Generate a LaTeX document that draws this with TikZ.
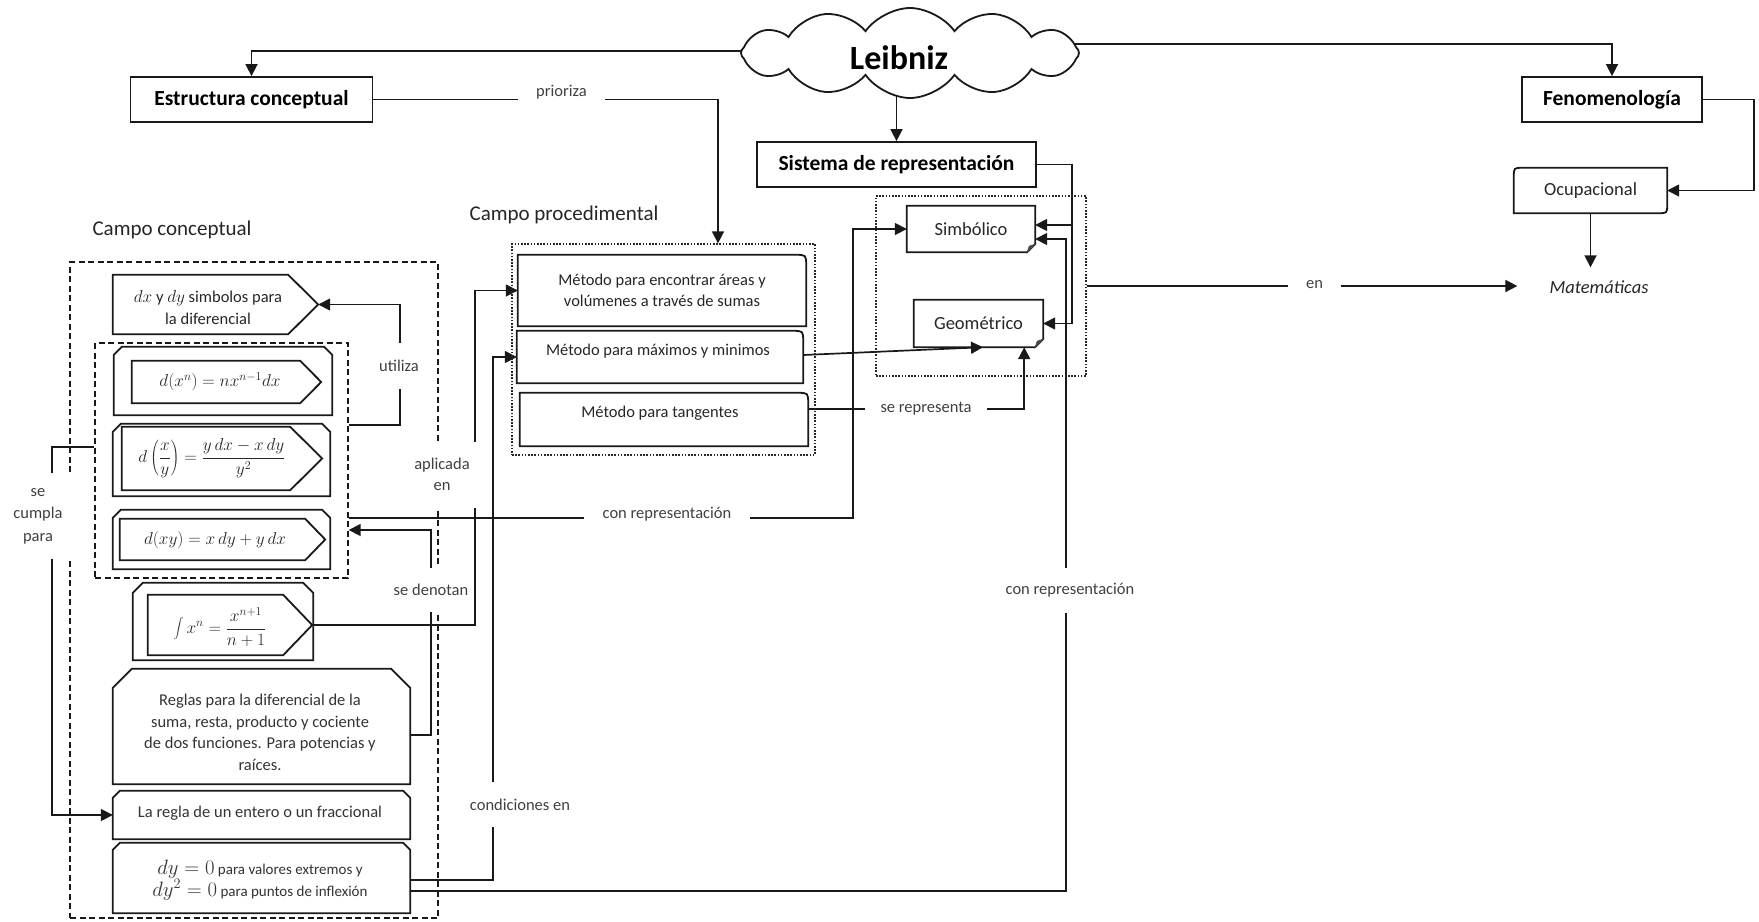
\documentclass[tikz,border=0pt]{standalone}
\usepackage{fontspec}
\setmainfont{Carlito}
\usetikzlibrary{arrows.meta,calc,shapes.symbols,backgrounds}

% font sizes (1pt = 1 output pixel)
\newcommand\fsBold{\fontsize{21.5}{26}\selectfont\bfseries}
\newcommand\fsTitle{\fontsize{21}{25}\selectfont}
\newcommand\fsBody{\fontsize{16.5}{21.5}\selectfont}
\newcommand\fsMid{\fontsize{18.5}{22}\selectfont}
\newcommand\fsLbl{\fontsize{16.5}{21.5}\selectfont}
\newcommand\fsLeib{\fontsize{34}{40}\selectfont\bfseries}
\newcommand\fsMath{\fontsize{18}{21}\selectfont}
\newcommand\fsMathL{\fontsize{19.5}{22}\selectfont}
\newcommand\fsDy{\fontsize{15}{22}\selectfont}

% outlines drawn around invisible nodes
% top corners cut off
\newcommand\snipdraw[2]{\draw[boxline] ([yshift=-#2]#1.north west) -- ([xshift=#2]#1.north west) -- ([xshift=-#2]#1.north east) -- ([yshift=-#2]#1.north east) -- (#1.south east) -- (#1.south west) -- cycle;}
% pentagon pointing right
\newcommand\pentadraw[2]{\draw[boxline] (#1.north west) -- ([xshift=-#2]#1.north east) -- (#1.east) -- ([xshift=-#2]#1.south east) -- (#1.south west) -- cycle;}
% one rounded corner (top right)
\newcommand\rtrdraw[2]{\draw[boxline] (#1.south west) -- (#1.north west) -- ([xshift=-#2]#1.north east) .. controls (#1.north east) .. ([yshift=-#2]#1.north east) -- (#1.south east) -- cycle;}
% rounded top-left and bottom-right corners
\newcommand\rdiagdraw[2]{\draw[boxline] ([yshift=-#2]#1.north west) .. controls (#1.north west) .. ([xshift=#2]#1.north west) -- (#1.north east) -- ([yshift=#2]#1.south east) .. controls (#1.south east) .. ([xshift=-#2]#1.south east) -- (#1.south west) -- cycle;}
% folded bottom-right corner
\newcommand\folddraw[2]{\draw[boxline] (#1.north west) -- (#1.north east) -- ([yshift=#2]#1.south east) -- ([xshift=-#2]#1.south east) -- (#1.south west) -- cycle;
  \filldraw[black!70, line width=0.8pt] ([yshift=#2]#1.south east) -- ([xshift=-#2]#1.south east) -- ([xshift=-0.75*#2,yshift=0.75*#2]#1.south east) -- cycle;}

\tikzset{
  boxline/.style={draw=black!90, line width=1.8pt},
  plainbox/.style={boxline, fill=white, inner sep=0pt, text=black},
  shapeonly/.style={inner sep=0pt},
  conn/.style={draw=black!90, line width=1.7pt},
  arr/.style={-{Triangle[length=12pt,width=12pt]}},
  lbl/.style={fill=white, inner sep=1pt, font=\fsLbl, text=black!75, align=center},
  dashbox/.style={draw=black!90, line width=1.4pt, dash pattern=on 6pt off 3.5pt, inner sep=0pt},
  dotbox/.style={draw=black!85, line width=1.3pt, dash pattern=on 1.6pt off 1.6pt, inner sep=0pt},
  txt/.style={text=black!85, inner sep=0pt, align=center},
}

\begin{document}
\begin{tikzpicture}[x=1pt,y=-1pt]
\useasboundingbox (0,0) rectangle (1759,921);

% ---------- top row ----------
\node[cloud, cloud puffs=12, cloud puff arc=110, aspect=3.8, boxline, fill=white,
      minimum width=338pt, minimum height=90pt, inner sep=0pt] (leib) at (910,53) {};
\node[txt, text=black] (leibt) at (899,58) {\fsLeib Leibniz};

\node[plainbox, minimum width=242pt, minimum height=45pt] (estr) at (251.5,99.5) {\fsBold Estructura conceptual};
\node[plainbox, minimum width=279pt, minimum height=45pt] (sist) at (896.5,164.5) {\fsBold Sistema de representación};
\node[plainbox, minimum width=180pt, minimum height=45pt] (fen) at (1612,99.5) {\fsBold Fenomenología};

\node[shapeonly, minimum width=153pt, minimum height=45pt, font=\fsMid, text=black!85] (ocup) at (1590.5,190.5) {Ocupacional};
\rdiagdraw{ocup}{9pt}
\node[txt, font=\fsMid\itshape, inner xsep=32pt, inner ysep=13pt] (mat) at (1599,287) {Matemáticas};

% ---------- representation systems ----------
\node[dotbox, minimum width=210pt, minimum height=180pt] (repbox) at (981,286) {};
\node[shapeonly, minimum width=128pt, minimum height=46pt, font=\fsMid, text=black!85] (sim) at (971,229) {Simbólico};
\folddraw{sim}{8pt}
\node[shapeonly, minimum width=129pt, minimum height=47pt, font=\fsMid, text=black!85] (geo) at (978.5,323.5) {Geométrico};
\folddraw{geo}{8pt}

% ---------- procedural field ----------
\node[txt, font=\fsTitle] (cp) at (564,215) {Campo procedimental};
\node[dotbox, minimum width=303pt, minimum height=211pt] (procbox) at (663.5,349.5) {};
\node[shapeonly, minimum width=288pt, minimum height=71pt, font=\fsBody, text=black!85, align=center] (metA) at (662,290.5)
  {Método para encontrar áreas y\\volúmenes a través de sumas};
\rtrdraw{metA}{11pt}
\node[shapeonly, minimum width=286pt, minimum height=52pt] (metB) at (660,357) {};
\rtrdraw{metB}{11pt}
\node[txt, font=\fsBody] (metBt) at (658,351) {Método para máximos y minimos};
\node[shapeonly, minimum width=288pt, minimum height=53pt] (metC) at (664,419.5) {};
\rtrdraw{metC}{11pt}
\node[txt, font=\fsBody] (metCt) at (660,413) {Método para tangentes};

% ---------- conceptual field ----------
\node[txt, font=\fsTitle] (cc) at (172,230) {Campo conceptual};
\node[dashbox, minimum width=368pt, minimum height=656pt] (concbox) at (254,590) {};

\node[shapeonly, minimum width=205pt, minimum height=59pt] (dxbox) at (215.5,304.5) {};
\pentadraw{dxbox}{30pt}
\node[txt, font=\fsBody] (dxt) at (208,307.5) {$dx$ y $dy$ simbolos para\\la diferencial};

\node[dashbox, minimum width=253pt, minimum height=235pt] (formgrp) at (221.5,460.5) {};

\node[shapeonly, minimum width=218pt, minimum height=68pt] (f1o) at (223,381) {};
\snipdraw{f1o}{8pt}
\node[shapeonly, minimum width=189pt, minimum height=42pt] (f1i) at (226.5,382) {};
\pentadraw{f1i}{21pt}
\node[txt, font=\fsMath] (f1t) at (220,382) {$d(x^n) = nx^{n-1}dx$};

\node[shapeonly, minimum width=217pt, minimum height=72pt] (f2o) at (221.5,460) {};
\snipdraw{f2o}{8pt}
\node[shapeonly, minimum width=200pt, minimum height=63pt] (f2i) at (222,458.5) {};
\pentadraw{f2i}{32pt}
\node[txt, font=\fsMath] (f2t) at (212,458) {$\displaystyle d\left(\frac{x}{y}\right) = \frac{y\,dx - x\,dy}{y^2}$};

\node[shapeonly, minimum width=217pt, minimum height=59pt] (f3o) at (221.5,539.5) {};
\snipdraw{f3o}{8pt}
\node[shapeonly, minimum width=205pt, minimum height=41pt] (f3i) at (222.5,539.5) {};
\pentadraw{f3i}{20pt}
\node[txt, font=\fsMath] (f3t) at (215,540) {$d(xy) = x\,dy + y\,dx$};

\node[shapeonly, minimum width=180pt, minimum height=77pt] (f4o) at (223,621.5) {};
\snipdraw{f4o}{10pt}
\node[shapeonly, minimum width=164pt, minimum height=60pt] (f4i) at (230,625) {};
\pentadraw{f4i}{29pt}
\node[txt, font=\fsMath] (f4t) at (220,627) {$\displaystyle \int x^n = \frac{x^{n+1}}{n+1}$};

\node[shapeonly, minimum width=297pt, minimum height=115pt] (reglas) at (261.5,726.5) {};
\snipdraw{reglas}{19pt}
\node[txt, font=\fsBody, text=black!80] (reglast) at (260,732.5)
  {Reglas para la diferencial de la\\suma, resta, producto y cociente\\de dos funciones. Para potencias y\\raíces.};

\node[shapeonly, minimum width=297pt, minimum height=48pt] (laregla) at (261.5,815) {};
\snipdraw{laregla}{7pt}
\node[txt, font=\fsBody, text=black!80] (lareglat) at (260,813) {La regla de un entero o un fraccional};

\node[shapeonly, minimum width=297pt, minimum height=70pt] (dybox) at (261.5,878) {};
\snipdraw{dybox}{7pt}
\node[txt, font=\fsDy, text=black!80] (dyt) at (260,880)
  {{\fsMathL$dy = 0$} para valores extremos y\\{\fsMathL$dy^2 = 0$} para puntos de inflexión};

% ---------- connectors ----------
\begin{scope}[on background layer]
  \draw[conn,arr] (leib.center |- 0,51) -| (estr.north);
  \draw[conn,arr] (leib.center |- 0,44) -| (fen.north);
  \draw[conn,arr] (leib.center -| sist.north) -- (sist.north);
  \draw[conn,arr] (estr.east) -| ($(procbox.north)+(54.5,0)$);

  \coordinate (sbus) at (1071.5,225);
  \draw[conn,arr] (sist.east) -| ($(geo.east)+(28.5,0)$) -- (geo.east);
  \draw[conn,arr] (sbus) -- (sim.east |- sbus);

  \draw[conn,arr] (fen.east) -- ++(51,0) |- (ocup.east);
  \draw[conn,arr] (ocup.south) -- (ocup.south |- mat.north);
  \draw[conn,arr] (repbox.east) -- (repbox.east -| mat.west);

  \draw[conn,arr] (metB.east |- 0,355) -- (geo.south -| 983,0);
  \draw[conn,arr] (metC.east |- 0,409) -| ($(geo.south east)+(-19,0)$);

  \draw[conn,arr] (formgrp.east |- 0,518) -| ($(sim.west)+(-54,0)$) -- (sim.west);
  \draw[conn,arr] (dybox.east |- 0,891) -| (1066,239) -- (sim.east |- 0,239);

  \draw[conn,arr] (f4i.east) -| ($(metA.west)+(-43,0)$) -- (metA.west);
  \draw[conn,arr] (dybox.east |- 0,880) -| ($(metB.west)+(-24,0)$) -- (metB.west);

  \draw[conn,arr] (formgrp.east |- 0,425) -| ($(dxbox.east)+(82,0)$) -- (dxbox.east);
  \draw[conn,arr] (reglas.east |- 0,735) -| (431,530) -- (formgrp.east |- 0,530);
  \draw[conn,arr] (formgrp.west |- 0,447) -| ($(laregla.west)+(-61,0)$) -- (laregla.west);
\end{scope}

% ---------- connector labels ----------
\node[lbl, minimum width=87pt, minimum height=22pt] (lprior) at (561.5,92) {prioriza};
\node[lbl, minimum height=46pt] (lutil) at (399,365.5) {utiliza};
\node[lbl, minimum width=80pt, minimum height=66pt] (lapl) at (442,474.5) {aplicada\\en};
\node[lbl, minimum width=80pt, minimum height=44pt] (lden) at (431,590) {se denotan};
\node[lbl, minimum width=68pt, minimum height=86pt, font=\fontsize{16.5}{22.5}\selectfont] (lcum) at (38,516) {se\\cumpla\\para};
\node[lbl, minimum width=166pt, minimum height=22pt] (lcon1) at (667,514) {con representación};
\node[lbl, minimum width=104pt, minimum height=45pt] (lcond) at (520,804.5) {condiciones en};
\node[lbl, minimum width=132pt, minimum height=45pt] (lcon2) at (1070,590.5) {con representación};
\node[lbl, minimum width=122pt, minimum height=22pt] (lrep) at (926,409) {se representa};
\node[lbl, minimum width=53pt, minimum height=20pt] (len) at (1314.5,285) {en};
\end{tikzpicture}
\end{document}
